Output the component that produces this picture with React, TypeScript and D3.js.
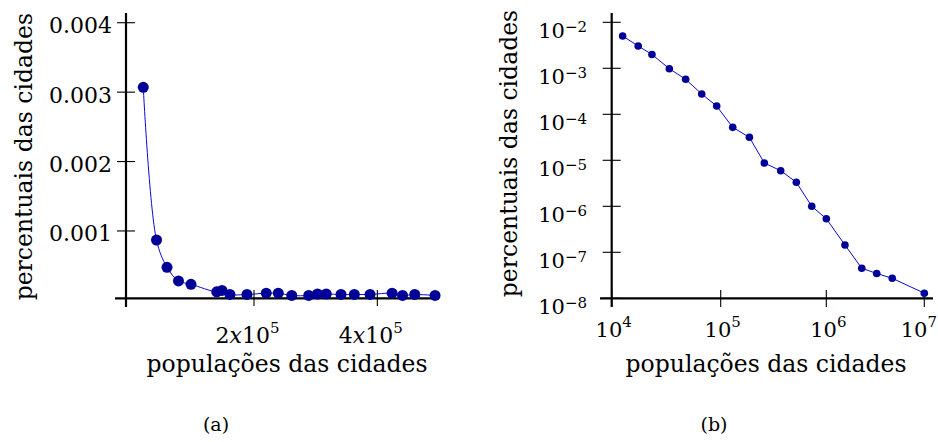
import React, { useRef, useEffect } from "react";
import * as d3 from "d3";

const W = 938;
const H = 442;
const FONT = "'DejaVu Serif', serif";
const MARK = "#000099";
const LINE = "#0a0ad2";

// (a) escala linear
const popA = [20400, 41900, 58900, 77500, 97800, 139500, 148100, 161000, 188600, 219800, 239400,
  261200, 288700, 303000, 317100, 341100, 362700, 388200, 423900, 440900, 460700, 493600];
const pctA = [0.00307, 0.00087, 0.000477, 0.00028, 0.000232, 0.000124, 0.000143, 0.000085, 0.000085,
  0.000104, 0.000104, 0.000071, 0.000071, 0.000092, 0.000092, 0.000085, 0.000085, 0.000085,
  0.000104, 0.000071, 0.000085, 0.000071];
const yTicksA = [0.001, 0.002, 0.003, 0.004];
const yLabelsA = ["0.001", "0.002", "0.003", "0.004"];
const xTicksA = [2e5, 4e5];
const xLabelsA = [["2", "5"], ["4", "5"]];

// (b) escala log-log
const popB = [12600, 17500, 23400, 33800, 47700, 67000, 91900, 130000, 187000, 259000, 370000,
  520000, 728000, 1000000, 1550000, 2300000, 3270000, 4710000, 10000000];
const pctB = [5.03e-3, 3.05e-3, 2.0e-3, 9.8e-4, 5.77e-4, 2.76e-4, 1.51e-4, 5.21e-5, 3.16e-5, 8.73e-6,
  5.94e-6, 3.33e-6, 1.0e-6, 5.37e-7, 1.44e-7, 4.51e-8, 3.46e-8, 2.72e-8, 1.29e-8];
const xTicksB = [1e4, 1e5, 1e6, 1e7];
const xExpB = ["4", "5", "6", "7"];
const yTicksB = [1e-8, 1e-7, 1e-6, 1e-5, 1e-4, 1e-3, 1e-2];
const yExpB = ["−8", "−7", "−6", "−5", "−4", "−3", "−2"];

const yTitle = "percentuais das cidades";
const xTitle = "populações das cidades";

const App = () => {
  const svgRef = useRef(null);

  useEffect(() => {
    document.body.style.margin = "0";
    draw();
  }, []);

  const draw = () => {
    const svg = d3.select(svgRef.current);
    svg.selectAll("*").remove();

    // ---------- (a) ----------
    const x = d3.scaleLinear().domain([-7600, 500000]).range([126, 439]);
    const y = d3.scaleLinear().domain([0.00003, 0.00414]).range([298.3, 13]);
    const ga = svg.append("g");

    ga.append("line").attr("x1", 115).attr("x2", 439).attr("y1", y(0.00003)).attr("y2", y(0.00003))
      .attr("stroke", "#000").attr("stroke-width", 2.2);
    ga.append("line").attr("x1", x(-7600)).attr("x2", x(-7600)).attr("y1", 13).attr("y2", 307)
      .attr("stroke", "#000").attr("stroke-width", 2.2);

    yTicksA.forEach((t, i) => {
      ga.append("line").attr("x1", 117).attr("x2", 135).attr("y1", y(t)).attr("y2", y(t))
        .attr("stroke", "#000").attr("stroke-width", 1.1);
      ga.append("text").attr("x", 112).attr("y", y(t) + 10.5).attr("text-anchor", "end")
        .style("font-family", FONT).style("font-size", "22px").text(yLabelsA[i]);
    });
    xTicksA.forEach((t, i) => {
      ga.append("line").attr("x1", x(t)).attr("x2", x(t)).attr("y1", 290).attr("y2", 306)
        .attr("stroke", "#000").attr("stroke-width", 1.1);
      const tx = ga.append("text").attr("x", x(t) - 6.5).attr("y", 343).attr("text-anchor", "middle")
        .style("font-family", FONT).style("font-size", "22px");
      tx.append("tspan").text(xLabelsA[i][0]);
      tx.append("tspan").style("font-style", "italic").text("x");
      tx.append("tspan").text("10");
      tx.append("tspan").attr("dy", -10).style("font-size", "15px").text(xLabelsA[i][1]);
    });

    const lineA = d3.line().x((d, i) => x(popA[i])).y((d) => y(d)).curve(d3.curveCatmullRom.alpha(0.5));
    ga.append("path").attr("d", lineA(pctA)).attr("fill", "none").attr("stroke", LINE).attr("stroke-width", 1);
    ga.selectAll("circle").data(pctA).enter().append("circle")
      .attr("cx", (d, i) => x(popA[i])).attr("cy", (d) => y(d)).attr("r", 5.5).attr("fill", MARK);

    ga.append("text").attr("transform", "translate(31.5,156.7)rotate(-90)").attr("text-anchor", "middle")
      .style("font-family", FONT).style("font-size", "23.5px").text(yTitle);
    ga.append("text").attr("x", 287).attr("y", 372).attr("text-anchor", "middle")
      .style("font-family", FONT).style("font-size", "23.5px").text(xTitle);
    ga.append("text").attr("x", 216).attr("y", 431).attr("text-anchor", "middle")
      .style("font-family", FONT).style("font-size", "19px").text("(a)");

    // ---------- (b) ----------
    const xb = d3.scaleLog().domain(xTicksB).range([611.7, 720.7, 826.3, 924.3]);
    const yb = d3.scaleLog().domain([1e-8, 1e-2]).range([298.3, 22.3]);
    const gb = svg.append("g");

    gb.append("line").attr("x1", 600).attr("x2", 933).attr("y1", yb(1e-8)).attr("y2", yb(1e-8))
      .attr("stroke", "#000").attr("stroke-width", 2.2);
    gb.append("line").attr("x1", xb(1e4)).attr("x2", xb(1e4)).attr("y1", 13).attr("y2", 307)
      .attr("stroke", "#000").attr("stroke-width", 2.2);

    yTicksB.forEach((t, i) => {
      gb.append("line").attr("x1", 602.7).attr("x2", 620.7).attr("y1", yb(t)).attr("y2", yb(t))
        .attr("stroke", "#000").attr("stroke-width", 1.1);
      const tx = gb.append("text").attr("x", 587).attr("y", yb(t) + 16).attr("text-anchor", "end")
        .style("font-family", FONT).style("font-size", "21px");
      tx.append("tspan").text("10");
      tx.append("tspan").attr("dy", -6.6).style("font-size", "15px").text(yExpB[i]);
    });
    xTicksB.forEach((t, i) => {
      gb.append("line").attr("x1", xb(t)).attr("x2", xb(t)).attr("y1", 290).attr("y2", 307)
        .attr("stroke", "#000").attr("stroke-width", 1.1);
      const last = i === xTicksB.length - 1;
      const tx = gb.append("text").attr("x", last ? W - 1 : xb(t) + 2).attr("y", 336.7)
        .attr("text-anchor", last ? "end" : "middle")
        .style("font-family", FONT).style("font-size", "21px");
      tx.append("tspan").text("10");
      tx.append("tspan").attr("dy", -10).style("font-size", "15px").text(xExpB[i]);
    });

    const lineB = d3.line().x((d, i) => xb(popB[i])).y((d) => yb(d));
    gb.append("path").attr("d", lineB(pctB)).attr("fill", "none").attr("stroke", LINE).attr("stroke-width", 1);
    gb.selectAll("circle").data(pctB).enter().append("circle")
      .attr("cx", (d, i) => xb(popB[i])).attr("cy", (d) => yb(d)).attr("r", 3.8).attr("fill", MARK);

    gb.append("text").attr("transform", "translate(516.5,153.5)rotate(-90)").attr("text-anchor", "middle")
      .style("font-family", FONT).style("font-size", "23.5px").text(yTitle);
    gb.append("text").attr("x", 766).attr("y", 372).attr("text-anchor", "middle")
      .style("font-family", FONT).style("font-size", "23.5px").text(xTitle);
    gb.append("text").attr("x", 714).attr("y", 431).attr("text-anchor", "middle")
      .style("font-family", FONT).style("font-size", "19px").text("(b)");
  };

  return (
    <svg width={W} height={H} style={{ display: "block", background: "#fff" }}>
      <g ref={svgRef} />
    </svg>
  );
};

export default App;
